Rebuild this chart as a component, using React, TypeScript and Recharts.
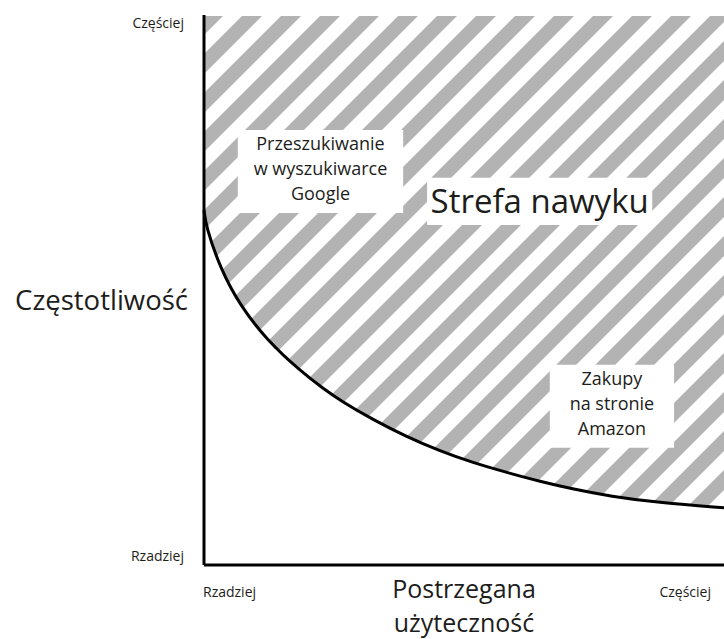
import { Area, ComposedChart, Label, Line, ReferenceArea, XAxis, YAxis } from 'recharts'

// perceived usefulness (0 = rarely, 100 = often) vs frequency (0..100)
const usefulness = [0, 0.4, 3.1, 6.9, 12.1, 18.5, 22.9, 26.2, 32.5, 39.0, 45.4, 51.7, 58.3, 64.6, 71.0, 78.1, 87.7, 100]
const frequency = [64.5, 61.5, 54.0, 47.2, 40.9, 35.3, 32.1, 29.9, 26.4, 23.3, 20.7, 18.6, 16.8, 15.2, 13.8, 12.5, 11.3, 10.4]
const HATCH_TOP = 99.8

const xTickLabels = ['Rzadziej', 'Częściej']
const yTickLabels = ['Rzadziej', 'Częściej']
const xTitle = ['Postrzegana', 'użyteczność']
const yTitle = 'Częstotliwość'

const callouts = [
  { x1: 6.5, x2: 38.3, y1: 64.0, y2: 79.1, lines: ['Przeszukiwanie', 'w wyszukiwarce', 'Google'], size: 18 },
  { x1: 42.9, x2: 86.2, y1: 61.8, y2: 70.4, lines: ['Strefa nawyku'], size: 33 },
  { x1: 66.5, x2: 90.4, y1: 21.3, y2: 36.4, lines: ['Zakupy', 'na stronie', 'Amazon'], size: 18 },
]

const data = usefulness.map((u, i) => ({ u, f: frequency[i], band: [frequency[i], HATCH_TOP] }))

const FONT = '"Open Sans", sans-serif'
const INK = '#1d1d1b'
const STRIPE = 39

const calloutText = (lines: string[], size: number) => (props: any) => {
  const { x, y, width, height } = props.viewBox
  const cx = x + width / 2
  const step = 25
  const first = lines.length === 1 ? y + height / 2 + size * 0.36 : y + 20
  return (
    <text x={cx} textAnchor="middle" fontFamily={FONT} fontSize={size} fill={INK}>
      {lines.map((l, i) => (
        <tspan key={l} x={cx} y={first + i * step}>{l}</tspan>
      ))}
    </text>
  )
}

const XTick = (props: any) => {
  const { x, y, payload } = props
  const first = payload.value === 0
  return (
    <text x={x - 1} y={y + 30} textAnchor={first ? 'start' : 'end'} fontFamily={FONT} fontSize={14} fill={INK}>
      {first ? xTickLabels[0] : xTickLabels[1]}
    </text>
  )
}

const YTick = (props: any) => {
  const { x, y, payload } = props
  const bottom = payload.value === 0
  return (
    <text x={x - 18} y={bottom ? y - 4 : y + 13} textAnchor="end" fontFamily={FONT} fontSize={14} fill={INK}>
      {bottom ? yTickLabels[0] : yTickLabels[1]}
    </text>
  )
}

const XTitle = (props: any) => {
  const { x, y, width } = props.viewBox
  const cx = x + width / 2
  return (
    <g fontFamily={FONT} fontSize={25} fill={INK}>
      <text x={cx} y={y + 33} textAnchor="middle">{xTitle[0]}</text>
      <text x={cx} y={y + 67} textAnchor="middle">{xTitle[1]}</text>
    </g>
  )
}

const YTitle = (props: any) => {
  const { x, y, height } = props.viewBox
  return (
    <text x={x - 15} y={y + height / 2 + 20} textAnchor="end" fontFamily={FONT} fontSize={27.5} fill={INK}>
      {yTitle}
    </text>
  )
}

export default function App() {
  return (
    <div style={{ position: 'absolute', left: 0, top: 0, width: 724, height: 639, background: '#fff' }}>
      <ComposedChart width={724} height={639} data={data} margin={{ top: 15, right: 0, bottom: 73, left: 203 }}>
        <defs>
          <pattern id="hatch" patternUnits="userSpaceOnUse" width={STRIPE} height={STRIPE}>
            {[-5, 34, 73].map(c => (
              <line key={c} x1={c + STRIPE} y1={-STRIPE} x2={-STRIPE} y2={c + STRIPE} stroke="#b3b3b3" strokeWidth={14.1} />
            ))}
          </pattern>
        </defs>
        <Area dataKey="band" type="basis" fill="url(#hatch)" fillOpacity={1} stroke="none" isAnimationActive={false} />
        {callouts.map(c => (
          <ReferenceArea
            key={c.lines[0]}
            x1={c.x1}
            x2={c.x2}
            y1={c.y1}
            y2={c.y2}
            fill="#fff"
            fillOpacity={1}
            stroke="none"
            label={calloutText(c.lines, c.size)}
          />
        ))}
        <Line dataKey="f" type="basis" stroke="#000" strokeWidth={3} dot={false} activeDot={false} isAnimationActive={false} />
        <XAxis
          dataKey="u"
          type="number"
          domain={[0, 100]}
          ticks={[0, 100]}
          height={1}
          tickSize={0}
          tickLine={false}
          tick={<XTick />}
          axisLine={{ stroke: '#000', strokeWidth: 3 }}
        >
          <Label content={<XTitle />} />
        </XAxis>
        <YAxis
          type="number"
          domain={[0, 100]}
          ticks={[0, 100]}
          width={1}
          tickSize={0}
          tickLine={false}
          tick={<YTick />}
          axisLine={{ stroke: '#000', strokeWidth: 3 }}
        >
          <Label content={<YTitle />} />
        </YAxis>
      </ComposedChart>
    </div>
  )
}
